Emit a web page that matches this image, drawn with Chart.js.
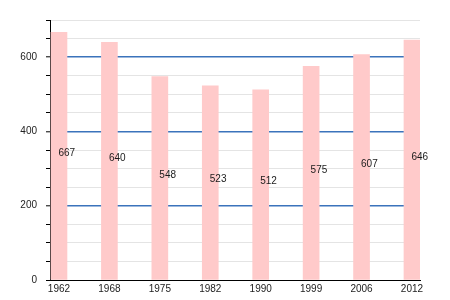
<!DOCTYPE html>
<html>
<head>
<meta charset="utf-8">
<script src="https://cdn.jsdelivr.net/npm/chart.js@4/dist/chart.umd.min.js"></script>
<style>
  html, body { margin: 0; padding: 0; background: #fff; }
  #box { width: 450px; height: 300px; }
</style>
</head>
<body>
<div id="box"><canvas id="myChart"></canvas></div>
<script>
const years = ["1962", "1968", "1975", "1982", "1990", "1999", "2006", "2012"];
const values = [667, 640, 548, 523, 512, 575, 607, 646];
const yTicks = [0, 200, 400, 600];

const barColor = "#ffcaca";
const blue = "rgba(25, 90, 175, 0.85)";
const gray = "#e4e4e4";
const font = "Liberation Sans";

// major grid lines every 200, but not on the axis itself
const isMajor = c => c.index > 0 && c.index % 4 === 0;

// numbers written inside the bars, starting at the bar centre
const valueLabels = {
    id: "valueLabels",
    afterDatasetsDraw(chart) {
        let ctx = chart.ctx;
        let meta = chart.getDatasetMeta(0);
        ctx.save();
        ctx.font = "10px '" + font + "'";
        ctx.fillStyle = "#1a1a1a";
        ctx.textAlign = "left";
        ctx.textBaseline = "middle";
        meta.data.forEach((bar, i) => {
            ctx.fillText(values[i], bar.x - 0.5, (bar.y + bar.base) / 2 - 3);
        });
        ctx.restore();
    }
};

new Chart("myChart", {
    type: "bar",
    data: {
        datasets: [{
            data: years.map((y, i) => ({ x: i, y: values[i] })),
            backgroundColor: barColor,
            borderWidth: 0,
            barThickness: 16
        }]
    },
    options: {
        responsive: true,
        maintainAspectRatio: false,
        animation: false,
        layout: { padding: { left: 0, right: 30, top: 20, bottom: 0 } },
        plugins: {
            legend: { display: false },
            tooltip: { enabled: false }
        },
        scales: {
            x: {
                type: "linear",
                offset: false,
                min: -0.178,
                max: 7.159,
                afterBuildTicks: s => { s.ticks = years.map((y, i) => ({ value: i })); },
                afterFit: s => { s.height = 20; },
                grid: { display: false, drawTicks: false },
                border: { color: "#000", width: 1 },
                ticks: {
                    padding: 3,
                    color: "#222",
                    font: { family: font, size: 10 },
                    maxRotation: 0,
                    callback: v => years[v]
                }
            },
            y: {
                min: 0,
                max: 700,
                afterFit: s => { s.width = 50; },
                border: { color: "#000", width: 1 },
                grid: {
                    color: c => (isMajor(c) ? blue : gray),
                    lineWidth: c => (isMajor(c) ? 1.6 : 1),
                    tickColor: "#000",
                    tickWidth: 1,
                    tickLength: 4
                },
                ticks: {
                    stepSize: 50,
                    padding: 9,
                    color: "#222",
                    font: { family: font, size: 10 },
                    callback: v => (yTicks.includes(v) ? String(v) : "")
                }
            }
        }
    },
    plugins: [valueLabels]
});
</script>
</body>
</html>
